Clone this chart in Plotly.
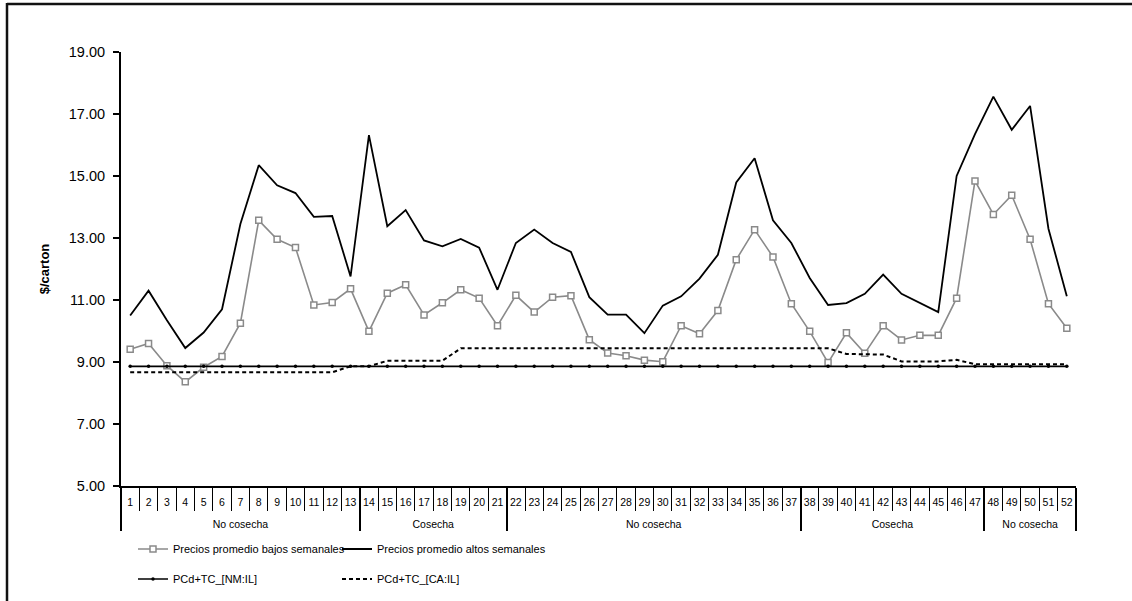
import plotly.graph_objects as go

# Semana del año y temporada
semanas = [str(i) for i in range(1, 53)]
temporadas = ["No cosecha"] * 13 + ["Cosecha"] * 8 + ["No cosecha"] * 16 + ["Cosecha"] * 10 + ["No cosecha"] * 5

# Precios semanales ($/cartón)
precios_bajos = [9.41, 9.60, 8.88, 8.36, 8.83, 9.18, 10.25, 13.57, 12.96, 12.69,
                 10.84, 10.92, 11.36, 9.99, 11.22, 11.49, 10.52, 10.91, 11.33, 11.06,
                 10.17, 11.15, 10.61, 11.09, 11.14, 9.72, 9.29, 9.20, 9.06, 9.01,
                 10.17, 9.91, 10.66, 12.30, 13.27, 12.39, 10.88, 9.99, 8.98, 9.94,
                 9.28, 10.17, 9.71, 9.86, 9.86, 11.06, 14.84, 13.76, 14.38, 12.96,
                 10.88, 10.09]
precios_altos = [10.50, 11.30, 10.35, 9.45, 9.95, 10.70, 13.45, 15.35, 14.70, 14.45,
                 13.68, 13.71, 11.76, 16.32, 13.38, 13.90, 12.92, 12.73, 12.97, 12.69,
                 11.33, 12.84, 13.27, 12.84, 12.55, 11.09, 10.53, 10.53, 9.93, 10.82,
                 11.12, 11.69, 12.46, 14.79, 15.57, 13.57, 12.84, 11.71, 10.84, 10.90,
                 11.20, 11.82, 11.20, 10.90, 10.61, 15.00, 16.35, 17.56, 16.49, 17.26,
                 13.30, 11.12]
pcd_nm_il = [8.86, 8.86, 8.86, 8.86, 8.86, 8.86, 8.86, 8.86, 8.86, 8.86,
             8.86, 8.86, 8.86, 8.86, 8.86, 8.86, 8.86, 8.86, 8.86, 8.86,
             8.86, 8.86, 8.86, 8.86, 8.86, 8.86, 8.86, 8.86, 8.86, 8.86,
             8.86, 8.86, 8.86, 8.86, 8.86, 8.86, 8.86, 8.86, 8.86, 8.86,
             8.86, 8.86, 8.86, 8.86, 8.86, 8.86, 8.86, 8.86, 8.86, 8.86,
             8.86, 8.86]
pcd_ca_il = [8.67, 8.67, 8.67, 8.67, 8.67, 8.67, 8.67, 8.67, 8.67, 8.67,
             8.67, 8.67, 8.86, 8.86, 9.04, 9.04, 9.04, 9.04, 9.44, 9.44,
             9.44, 9.44, 9.44, 9.44, 9.44, 9.44, 9.44, 9.44, 9.44, 9.44,
             9.44, 9.44, 9.44, 9.44, 9.44, 9.44, 9.44, 9.44, 9.44, 9.26,
             9.26, 9.24, 9.02, 9.02, 9.02, 9.07, 8.93, 8.93, 8.93, 8.93,
             8.93, 8.93]

y_ticks = [5, 7, 9, 11, 13, 15, 17, 19]

# Each season run gets its own group key (invisible suffix) so that
# repeated season names stay in chronological order on the axis; the
# leading break drops the season row below the week numbers.
grupos = []
run = 0
for i, t in enumerate(temporadas):
    if i > 0 and t != temporadas[i - 1]:
        run += 1
    grupos.append("<br>" + t + "\u200b" * run)
x = [grupos, semanas]

FONT = "Liberation Sans, Arial, sans-serif"

fig = go.Figure()
fig.add_trace(go.Scatter(
    x=x, y=precios_bajos, name="Precios promedio bajos semanales",
    mode="lines+markers", legend="legend",
    line=dict(color="#8a8a8a", width=1.6),
    marker=dict(symbol="square", size=6, color="white",
                line=dict(color="#8a8a8a", width=1.5)),
))
fig.add_trace(go.Scatter(
    x=x, y=precios_altos, name="Precios promedio altos semanales",
    mode="lines", legend="legend2",
    line=dict(color="black", width=1.8),
))
fig.add_trace(go.Scatter(
    x=x, y=pcd_nm_il, name="PCd+TC_[NM:IL]",
    mode="lines+markers", legend="legend3",
    line=dict(color="black", width=1.6),
    marker=dict(symbol="circle", size=3.5, color="black"),
))
fig.add_trace(go.Scatter(
    x=x, y=pcd_ca_il, name="PCd+TC_[CA:IL]",
    mode="lines", legend="legend4",
    line=dict(color="black", width=2, dash="4px,3px"),
))

L, R, T, B = 121, 56, 52, 115
W, H = 1132, 601
pw, ph = W - L - R, H - T - B

def px_x(p):
    return (p - L) / pw

def px_y(p):
    return (H - B - p) / ph

def legend_at(px, py):
    return dict(
        x=px_x(px), y=px_y(py),
        orientation="h", xanchor="left", yanchor="middle",
        font=dict(family=FONT, size=11, color="black"),
        bgcolor="rgba(0,0,0,0)", itemwidth=30,
    )

fig.update_layout(
    width=W, height=H,
    margin=dict(l=L, r=R, t=T, b=B, autoexpand=False),
    paper_bgcolor="white", plot_bgcolor="white",
    font=dict(family=FONT, color="black"),
    showlegend=True,
    legend=legend_at(133, 549),
    legend2=legend_at(337, 549),
    legend3=legend_at(133, 579),
    legend4=legend_at(337, 579),
    xaxis=dict(
        type="multicategory", range=[-0.5, 51.5], autorange=False,
        showline=True, linecolor="black", linewidth=2,
        ticks="outside", tickson="boundaries", ticklen=23,
        tickcolor="black", tickwidth=1.2, tickangle=0,
        ticklabelstandoff=5,
        showdividers=True, dividercolor="black", dividerwidth=1.5,
        tickfont=dict(family=FONT, size=10.5, color="black"),
        showgrid=False, zeroline=False,
    ),
    yaxis=dict(
        range=[5, 19], tickvals=y_ticks, tickformat=".2f",
        showline=True, linecolor="black", linewidth=2,
        ticks="outside", ticklen=6, tickcolor="black", tickwidth=1.5,
        ticklabelstandoff=5,
        tickfont=dict(family=FONT, size=14.5, color="black"),
        showgrid=False, zeroline=False,
        title=dict(text="<b>$/carton</b>", standoff=16,
                   font=dict(family=FONT, size=13, color="black")),
    ),
    shapes=[
        dict(type="line", xref="paper", yref="paper",
             x0=px_x(7), x1=px_x(1145), y0=px_y(4), y1=px_y(4),
             line=dict(color="#111111", width=2.5)),
        dict(type="line", xref="paper", yref="paper",
             x0=px_x(7), x1=px_x(7), y0=px_y(3), y1=px_y(610),
             line=dict(color="#111111", width=2.5)),
    ],
)

fig.write_html("out.html")
